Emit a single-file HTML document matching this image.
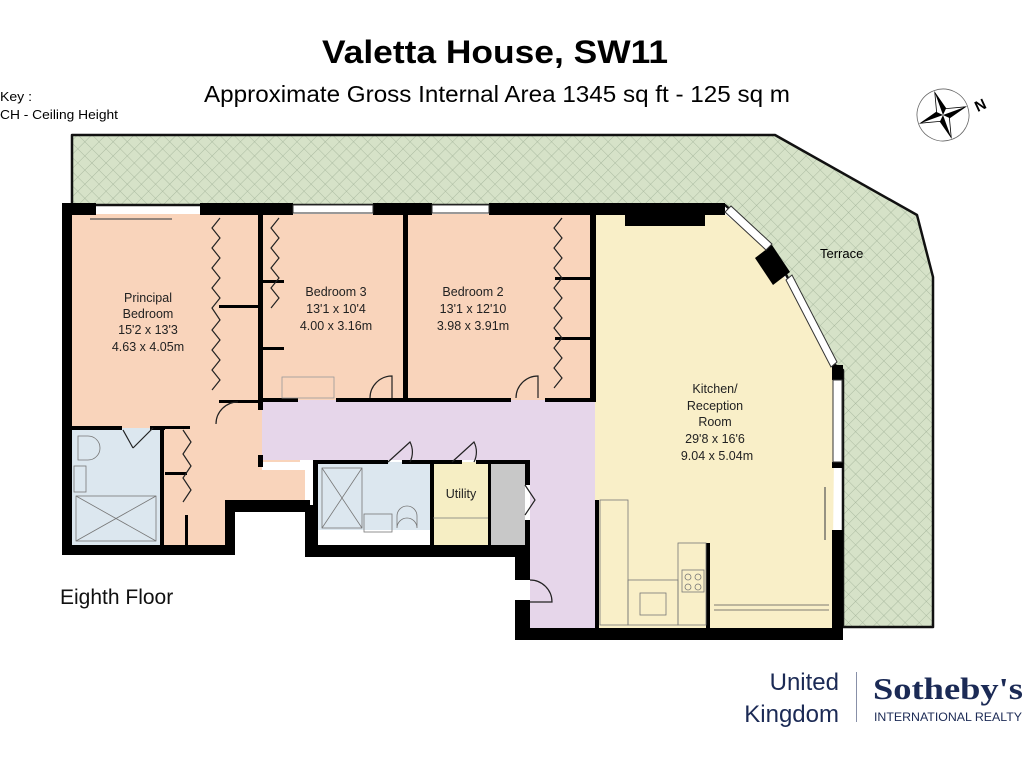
<!DOCTYPE html>
<html><head><meta charset="utf-8"><style>
html,body{margin:0;padding:0;background:#fff;}
svg{display:block;font-family:"Liberation Sans",sans-serif;}
</style></head><body>
<svg width="1024" height="768" viewBox="0 0 1024 768" xmlns="http://www.w3.org/2000/svg">
<defs>
<pattern id="hatch" width="10" height="10" patternUnits="userSpaceOnUse" patternTransform="rotate(45)">
<rect width="10" height="10" fill="#d6e2c8"/>
<path d="M0 0H10M0 0V10" stroke="#9fb096" stroke-width="0.8"/>
</pattern>
</defs>
<rect width="1024" height="768" fill="#fff"/>
<text x="322" y="63" font-size="32" font-weight="bold" textLength="346" lengthAdjust="spacingAndGlyphs">Valetta House, SW11</text>
<text x="204" y="102" font-size="23" textLength="586" lengthAdjust="spacingAndGlyphs">Approximate Gross Internal Area 1345 sq ft - 125 sq m</text>
<text x="0" y="101" font-size="13" textLength="32" lengthAdjust="spacingAndGlyphs">Key :</text>
<text x="0" y="119" font-size="13" textLength="118" lengthAdjust="spacingAndGlyphs">CH - Ceiling Height</text>
<!-- compass -->
<g transform="translate(943,115) rotate(-20)">
<circle r="26" fill="none" stroke="#666" stroke-width="0.8"/>
<polygon points="0,-24 5,-5 24,0 5,5 0,24 -5,5 -24,0 -5,-5" fill="#000"/>
<polygon points="0,-24 0,0 -5,-5" fill="#fff"/>
<polygon points="24,0 0,0 5,-5" fill="#fff"/>
<polygon points="0,24 0,0 5,5" fill="#fff"/>
<polygon points="-24,0 0,0 -5,5" fill="#fff"/>
<polygon points="0,-24 5,-5 24,0 5,5 0,24 -5,5 -24,0 -5,-5" fill="none" stroke="#000" stroke-width="0.8"/>
</g>
<text x="975" y="110" font-size="15" font-weight="bold" transform="rotate(-25 981 105)">N</text>
<!-- terrace -->
<polygon points="72,135 775,135 917,215 933,277 933,627 843,627 843,370 835,365 770,245 725,205 72,205" fill="url(#hatch)" stroke="#111" stroke-width="2.5" stroke-linejoin="round"/>
<text x="820" y="258" font-size="13">Terrace</text>
<!-- room fills -->
<polygon points="595,214 725,214 770,250 835,372 832,628 595,628" fill="#f9efc8"/>
<polygon points="72,214 262,214 262,400 300,400 300,462 262,462 262,470 305,470 305,500 235,500 235,545 72,545" fill="#f9d4bb"/>
<rect x="262" y="214" width="144" height="186" fill="#f9d4bb"/>
<rect x="406" y="214" width="189" height="186" fill="#f9d4bb"/>
<polygon points="262,400 595,400 595,628 530,628 530,580 515,580 515,545 530,545 530,460 262,460" fill="#e6d6ea"/>
<rect x="72" y="428" width="88" height="117" fill="#dce7ef"/>
<rect x="318" y="462" width="112" height="68" fill="#dce7ef"/>
<rect x="433" y="462" width="55" height="83" fill="#f6eec4"/>
<rect x="490" y="462" width="35" height="83" fill="#c8c8c8"/>
<!-- outer walls -->
<g fill="#000">
<rect x="62" y="203" width="34" height="12"/>
<rect x="200" y="203" width="93" height="12"/>
<rect x="373" y="203" width="59" height="12"/>
<rect x="489" y="203" width="236" height="12"/>
<rect x="625" y="214" width="80" height="12"/>
<rect x="62" y="203" width="10" height="352"/>
<rect x="62" y="545" width="173" height="10"/>
<rect x="225" y="500" width="10" height="55"/>
<rect x="225" y="500" width="85" height="12"/>
<rect x="305" y="505" width="10" height="50"/>
<rect x="305" y="545" width="210" height="12"/>
<rect x="515" y="545" width="15" height="35"/>
<rect x="515" y="600" width="15" height="40"/>
<rect x="515" y="628" width="328" height="12"/>
<rect x="832" y="530" width="11" height="110"/>
<rect x="832" y="365" width="11" height="15"/>
<rect x="832" y="462" width="11" height="6"/>
<polygon points="755,258 772,245 790,272 773,285"/>
</g>
<g fill="#fff" stroke="#333" stroke-width="1">
<rect x="293" y="205" width="80" height="8"/>
<rect x="432" y="205" width="57" height="8"/>
<polygon points="725,212 731,206 772,244 766,250"/>
<polygon points="786,280 792,275 837,362 831,367"/>
<rect x="833" y="380" width="9" height="82"/>
</g>
<!-- interior walls -->
<g fill="#000">
<rect x="258" y="214" width="5" height="188"/>
<rect x="258" y="390" width="5" height="20"/>
<rect x="263" y="398" width="35" height="4"/>
<rect x="336" y="398" width="70" height="4"/>
<rect x="403" y="214" width="5" height="188"/>
<rect x="408" y="398" width="103" height="4"/>
<rect x="545" y="398" width="50" height="4"/>
<rect x="590" y="214" width="6" height="188"/>
<rect x="219" y="305" width="40" height="3"/>
<rect x="219" y="400" width="40" height="3"/>
<rect x="262" y="280" width="22" height="3"/>
<rect x="262" y="347" width="22" height="3"/>
<rect x="555" y="277" width="37" height="3"/>
<rect x="555" y="337" width="37" height="3"/>
<rect x="258" y="455" width="5" height="12"/>
<rect x="72" y="426" width="50" height="4"/>
<rect x="150" y="426" width="15" height="4"/>
<rect x="160" y="426" width="4" height="120"/>
<rect x="165" y="426" width="25" height="3"/>
<rect x="165" y="472" width="22" height="3"/>
<rect x="185" y="515" width="3" height="30"/>
<rect x="313" y="460" width="75" height="4"/>
<rect x="313" y="460" width="5" height="90"/>
<rect x="402" y="460" width="60" height="4"/>
<rect x="430" y="460" width="4" height="88"/>
<rect x="476" y="460" width="54" height="4"/>
<rect x="488" y="460" width="3" height="88"/>
<rect x="525" y="460" width="5" height="25"/>
<rect x="525" y="520" width="5" height="28"/>
<rect x="595" y="500" width="4" height="128"/>
<rect x="706" y="543" width="4" height="85"/>
</g>
<g fill="none" stroke="#222" stroke-width="1.2">
<path d="M220,218 l-8,10 l8,10 l-8,10 l8,10 l-8,10 l8,10 l-8,10 l8,10 l-8,10 l8,12 l-8,10 l8,10 l-8,10 l8,10 l-8,10 l8,10 l-8,10"/>
<path d="M279,218 l-8,10 l8,10 l-8,10 l8,10 l-8,10 l8,10 l-8,10 l8,10 l-8,10"/>
<path d="M562,218 l-8,10 l8,10 l-8,10 l8,10 l-8,10 l8,10 l-8,10 l8,10 l-8,10 l8,10 l-8,10 l8,10 l-8,10 l8,10 l-8,10 l8,10 l-8,10"/>
<path d="M183,430 l8,12 l-8,12 l8,12 l-8,12 l8,12 l-8,12"/>
<path d="M525,485 l10,15 l-10,15"/>
<path d="M238,402 a22,22 0 0 0 -22,22"/>
<path d="M370,398 a22,22 0 0 1 22,-22 l0,22"/>
<path d="M516,398 a22,22 0 0 1 22,-22 l0,22"/>
<path d="M123,430 l10,18 M133,448 l20,-20"/>
<path d="M388,462 l22,-20 a22,22 0 0 1 0,20"/>
<path d="M452,462 l22,-20 a22,22 0 0 1 0,20"/>
<path d="M530,580 a22,22 0 0 1 22,22 l-22,0"/>
<rect x="282" y="377" width="52" height="21" stroke="#999" stroke-width="0.8"/>
<line x1="90" y1="219" x2="172" y2="219" stroke="#555"/>
<line x1="825" y1="487" x2="825" y2="540" stroke="#555"/>
<path d="M714,605 l115,0 M714,610 l115,0" stroke="#555" stroke-width="0.8"/>
</g>
<g fill="none" stroke="#777" stroke-width="0.8">
<rect x="76" y="496" width="80" height="45"/><path d="M76,496 L156,541 M156,496 L76,541"/>
<rect x="322" y="468" width="40" height="60"/><path d="M322,468 L362,528 M362,468 L322,528"/>
<path d="M78,436 h10 a10,10 0 0 1 0,24 h-10 z"/>
<rect x="74" y="466" width="12" height="26"/>
<rect x="364" y="514" width="28" height="18"/>
<path d="M397,528 a10,10 0 0 1 20,0 v-12 a10,10 0 0 0 -20,0 z"/>
<line x1="433" y1="518" x2="488" y2="518"/>
<rect x="600" y="500" width="28" height="125"/>
<rect x="628" y="580" width="50" height="45"/>
<rect x="640" y="593" width="26" height="22"/>
<rect x="678" y="543" width="28" height="82"/>
<rect x="682" y="570" width="22" height="22"/>
<circle cx="688" cy="577" r="3"/><circle cx="698" cy="577" r="3"/><circle cx="688" cy="587" r="3"/><circle cx="698" cy="587" r="3"/>
</g>
<g font-size="12.5" fill="#222" text-anchor="middle">
<text x="148" y="302">Principal</text>
<text x="148" y="318">Bedroom</text>
<text x="148" y="334">15'2 x 13'3</text>
<text x="148" y="351">4.63 x 4.05m</text>
<text x="336" y="296">Bedroom 3</text>
<text x="336" y="313">13'1 x 10'4</text>
<text x="336" y="330">4.00 x 3.16m</text>
<text x="473" y="296">Bedroom 2</text>
<text x="473" y="313">13'1 x 12'10</text>
<text x="473" y="330">3.98 x 3.91m</text>
<text x="715" y="393">Kitchen/</text>
<text x="715" y="410">Reception</text>
<text x="715" y="426">Room</text>
<text x="715" y="443">29'8 x 16'6</text>
<text x="717" y="460">9.04 x 5.04m</text>
<text x="461" y="498">Utility</text>
</g>
<text x="60" y="604" font-size="21" fill="#111">Eighth Floor</text>
<g fill="#1b2a55">
<text x="839" y="690" font-size="24" text-anchor="end">United</text>
<text x="839" y="722" font-size="24" text-anchor="end">Kingdom</text>
<rect x="856" y="672" width="1" height="50" fill="#8890a8"/>
<text x="873" y="699" font-size="31" font-weight="bold" font-family="Liberation Serif,serif" textLength="150" lengthAdjust="spacingAndGlyphs">Sotheby's</text>
<text x="874" y="721" font-size="11.5" textLength="148" lengthAdjust="spacingAndGlyphs">INTERNATIONAL REALTY</text>
</g>
</svg>
</body></html>
